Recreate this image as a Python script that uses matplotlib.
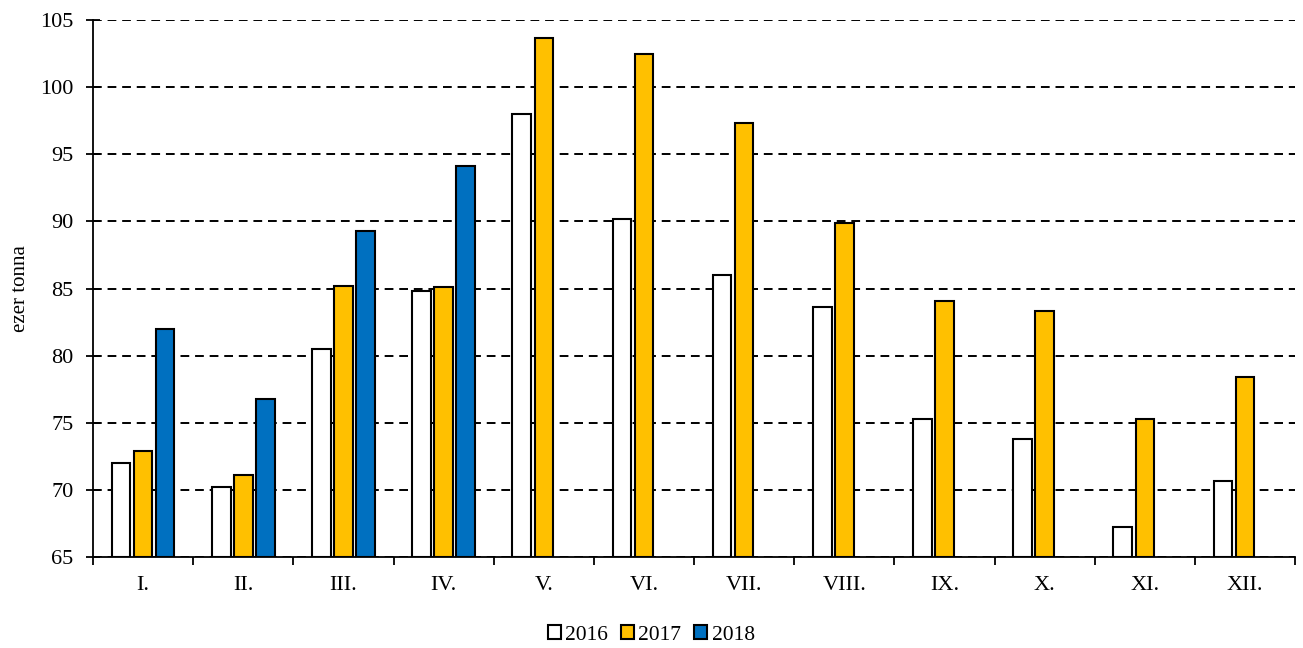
import numpy as np
import matplotlib.pyplot as plt
from matplotlib.ticker import FixedLocator

months = ["I.", "II.", "III.", "IV.", "V.", "VI.", "VII.", "VIII.", "IX.", "X.", "XI.", "XII."]
years = ["2016", "2017", "2018"]
v2016 = [72.0, 70.2, 80.5, 84.8, 98.0, 90.2, 86.0, 83.6, 75.3, 73.8, 67.2, 70.7]
v2017 = [72.9, 71.1, 85.2, 85.1, 103.7, 102.5, 97.3, 89.9, 84.1, 83.3, 75.3, 78.4]
v2018 = [82.0, 76.8, 89.3, 94.1, np.nan, np.nan, np.nan, np.nan, np.nan, np.nan, np.nan, np.nan]

colors = ["white", "#FFC000", "#0070C0"]

plt.rcParams['font.family'] = ['Liberation Serif', 'DejaVu Serif']

fig = plt.figure(figsize=(13.03, 6.48), dpi=100)
ax = fig.add_axes([0.0714, 0.1404, 0.9225, 0.8286])

x = np.arange(len(months))
pitch = 0.22
width = 0.185
for i, (vals, col, yr) in enumerate(zip([v2016, v2017, v2018], colors, years)):
    vals = np.array(vals)
    ax.bar(x + (i - 1) * pitch, vals - 65, bottom=65, width=width,
           color=col, edgecolor="black", linewidth=1.5, label=yr, zorder=3)

ax.set_ylim(65, 105)
ax.set_xlim(-0.5, len(months) - 0.5)
ax.set_yticks(np.arange(65, 106, 5))
ax.yaxis.grid(True, linestyle=(0, (4.5, 3)), color="black", linewidth=1.4, zorder=0)

ax.set_xticks(x)
ax.set_xticklabels(months)
ax.xaxis.set_minor_locator(FixedLocator(np.arange(-0.5, len(months), 1)))
ax.tick_params(axis="x", which="major", length=0, pad=14, labelsize=16)
ax.tick_params(axis="x", which="minor", length=6, width=1.3, direction="out")
ax.tick_params(axis="y", length=10, width=1.3, direction="inout", labelsize=16, pad=9)

for s in ["top", "right"]:
    ax.spines[s].set_visible(False)
ax.spines["left"].set_linewidth(1.3)
ax.spines["bottom"].set_linewidth(1.3)

ax.set_ylabel("ezer tonna", fontsize=15, labelpad=7)

fig.legend(loc="center", bbox_to_anchor=(0.5, 0.02), ncol=3, frameon=False,
           fontsize=15.5, handlelength=0.6, handleheight=0.6, handletextpad=0.2,
           columnspacing=0.6, borderpad=0)

fig.savefig("out.png", dpi=100)
